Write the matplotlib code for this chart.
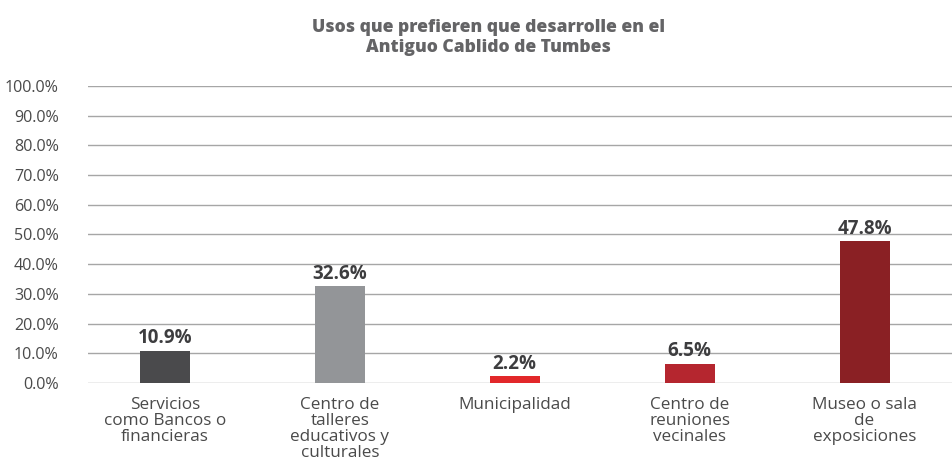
import matplotlib
matplotlib.use("Agg")
import matplotlib.pyplot as plt
from matplotlib.ticker import FuncFormatter

categories = [
    "Servicios\ncomo Bancos o\nfinancieras",
    "Centro de\ntalleres\neducativos y\nculturales",
    "Municipalidad",
    "Centro de\nreuniones\nvecinales",
    "Museo o sala\nde\nexposiciones",
]
values = [10.9, 32.6, 2.2, 6.5, 47.8]
bar_colors = ["#4a4a4c", "#939598", "#e2282a", "#b5262f", "#8a2024"]
yticks = [0, 10, 20, 30, 40, 50, 60, 70, 80, 90, 100]

plt.rcParams["font.family"] = ["Open Sans", "DejaVu Sans"]

fig = plt.figure(figsize=(9.52, 4.67), dpi=100)
ax = fig.add_axes([0.0924, 0.18, 0.9076, 0.636])

x = list(range(len(values)))
bars = ax.bar(x, values, width=0.286, color=bar_colors, zorder=3)

for xi, v in zip(x, values):
    ax.text(xi, v + 0.8, f"{v:.1f}%", ha="center", va="bottom",
            fontsize=13.5, fontweight="bold", color="#3d3d3f", zorder=4)

ax.set_xlim(-0.44, 4.5)
ax.set_ylim(0, 100)
ax.set_yticks(yticks)
ax.yaxis.set_major_formatter(FuncFormatter(lambda v, p: f"{v:.1f}%"))
ax.grid(axis="y", color="#a6a6a6", linewidth=1.0, zorder=0)
ax.set_xticks(x)
ax.set_xticklabels(categories, fontsize=12.3, color="#4a4a4a", linespacing=1.0)
ax.tick_params(axis="y", labelsize=11.6, labelcolor="#4a4a4a", length=0, pad=21)
ax.tick_params(axis="x", length=0, pad=10)
for s in ax.spines.values():
    s.set_visible(False)

fig.text(0.513, 0.92, "Usos que prefieren que desarrolle en el\nAntiguo Cablido de Tumbes",
         ha="center", va="center", fontsize=12.6, fontweight="heavy",
         color="#646466", linespacing=1.25)

fig.savefig("out.png", dpi=100)
